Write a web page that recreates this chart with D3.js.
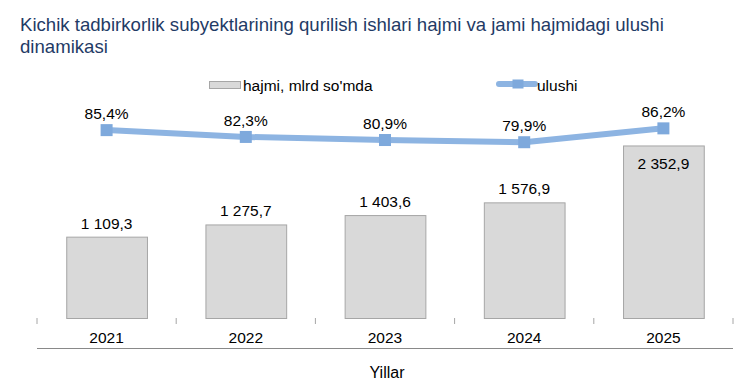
<!DOCTYPE html>
<html>
<head>
<meta charset="utf-8">
<script src="https://cdn.jsdelivr.net/npm/d3@7"></script>
<style>
  body { margin: 0; background: #fff; }
  text { font-family: "Liberation Sans", Arial, sans-serif; }
</style>
</head>
<body>
<div id="chart"></div>
<script>
const years = ["2021", "2022", "2023", "2024", "2025"];
const volumes = [1109.3, 1275.7, 1403.6, 1576.9, 2352.9];
const shares = [85.4, 82.3, 80.9, 79.9, 86.2];
const titleLines = [
  "Kichik tadbirkorlik subyektlarining qurilish ishlari hajmi va jami hajmidagi ulushi",
  "dinamikasi"
];

const width = 756;
const height = 386;
const margin = { top: 98, right: 23, bottom: 68, left: 37 };
const innerWidth = width - margin.left - margin.right;
const innerHeight = height - margin.top - margin.bottom;

const fmtNum = v => d3.format(",.1f")(v).replace(/,/g, " ").replace(".", ",");
const fmtPct = v => v.toFixed(1).replace(".", ",") + "%";

const svg = d3.select("#chart")
  .append("svg")
  .attr("width", width)
  .attr("height", height);

// Title
svg.append("text")
  .attr("x", 20)
  .attr("y", 30.5)
  .attr("fill", "#1f3b66")
  .style("font-size", "18.6px")
  .selectAll("tspan")
  .data(titleLines)
  .enter()
  .append("tspan")
  .attr("x", 20)
  .attr("dy", (d, i) => i === 0 ? 0 : 22.5)
  .text(d => d);

const g = svg.append("g")
  .attr("transform", `translate(${margin.left},${margin.top})`);

const x = d3.scaleBand()
  .domain(years)
  .range([0, innerWidth])
  .paddingInner(0.42)
  .paddingOuter(0.21);

const y = d3.scaleLinear().domain([0, 3000]).range([innerHeight, 0]);
const y2 = d3.scaleLinear().domain([0, 100]).range([innerHeight, 0]);

// category separators
const step = x.step();
g.selectAll(".sep")
  .data(d3.range(years.length + 1))
  .enter()
  .append("line")
  .attr("x1", i => i * step)
  .attr("x2", i => i * step)
  .attr("y1", innerHeight)
  .attr("y2", innerHeight + 6)
  .attr("stroke", "#a6a6a6")
  .attr("stroke-width", 1);

// year labels
g.selectAll(".year")
  .data(years)
  .enter()
  .append("text")
  .attr("x", d => x(d) + x.bandwidth() / 2)
  .attr("y", innerHeight + 25)
  .attr("text-anchor", "middle")
  .style("font-size", "15.5px")
  .attr("fill", "#000")
  .text(d => d);

// bottom line below labels
g.append("line")
  .attr("x1", 0)
  .attr("x2", innerWidth)
  .attr("y1", innerHeight + 30.5)
  .attr("y2", innerHeight + 30.5)
  .attr("stroke", "#898989")
  .attr("stroke-width", 1.2);

g.append("text")
  .attr("x", innerWidth / 2 + 2)
  .attr("y", innerHeight + 60)
  .attr("text-anchor", "middle")
  .style("font-size", "16px")
  .text("Yillar");

// bars
g.selectAll(".bar")
  .data(volumes)
  .enter()
  .append("rect")
  .attr("x", (d, i) => x(years[i]) + 0.5)
  .attr("y", d => y(d) + 0.5)
  .attr("width", x.bandwidth())
  .attr("height", d => innerHeight - y(d))
  .attr("fill", "#d9d9d9")
  .attr("stroke", "#a6a6a6")
  .attr("stroke-width", 1);

g.selectAll(".bar-label")
  .data(volumes)
  .enter()
  .append("text")
  .attr("x", (d, i) => x(years[i]) + x.bandwidth() / 2)
  .attr("y", (d, i) => i === volumes.length - 1 ? y(d) + 24 : y(d) - 8)
  .attr("text-anchor", "middle")
  .style("font-size", "15.5px")
  .text(d => fmtNum(d));

// share line
const line = d3.line()
  .x((d, i) => x(years[i]) + x.bandwidth() / 2)
  .y(d => y2(d));

g.append("path")
  .datum(shares)
  .attr("d", line)
  .attr("fill", "none")
  .attr("stroke", "#8db4e2")
  .attr("stroke-width", 6)
  .attr("stroke-linejoin", "round");

g.selectAll(".marker")
  .data(shares)
  .enter()
  .append("rect")
  .attr("x", (d, i) => x(years[i]) + x.bandwidth() / 2 - 6)
  .attr("y", d => y2(d) - 6)
  .attr("width", 12)
  .attr("height", 12)
  .attr("fill", "#7ea9dc");

g.selectAll(".share-label")
  .data(shares)
  .enter()
  .append("text")
  .attr("x", (d, i) => x(years[i]) + x.bandwidth() / 2)
  .attr("y", d => y2(d) - 11)
  .attr("text-anchor", "middle")
  .style("font-size", "15.5px")
  .text(d => fmtPct(d));

// legend
const legend = svg.append("g");
legend.append("rect")
  .attr("x", 209.5)
  .attr("y", 81.5)
  .attr("width", 31)
  .attr("height", 7)
  .attr("fill", "#d9d9d9")
  .attr("stroke", "#a6a6a6");
legend.append("text")
  .attr("x", 243)
  .attr("y", 90.5)
  .style("font-size", "15.5px")
  .text("hajmi, mlrd so'mda");

legend.append("line")
  .attr("x1", 499)
  .attr("x2", 535)
  .attr("y1", 84)
  .attr("y2", 84)
  .attr("stroke", "#8db4e2")
  .attr("stroke-width", 6)
  .attr("stroke-linecap", "round");
legend.append("rect")
  .attr("x", 512.5)
  .attr("y", 79.5)
  .attr("width", 11)
  .attr("height", 9)
  .attr("fill", "#7ea9dc");
legend.append("text")
  .attr("x", 537)
  .attr("y", 90.5)
  .style("font-size", "15.5px")
  .text("ulushi");
</script>
</body>
</html>
